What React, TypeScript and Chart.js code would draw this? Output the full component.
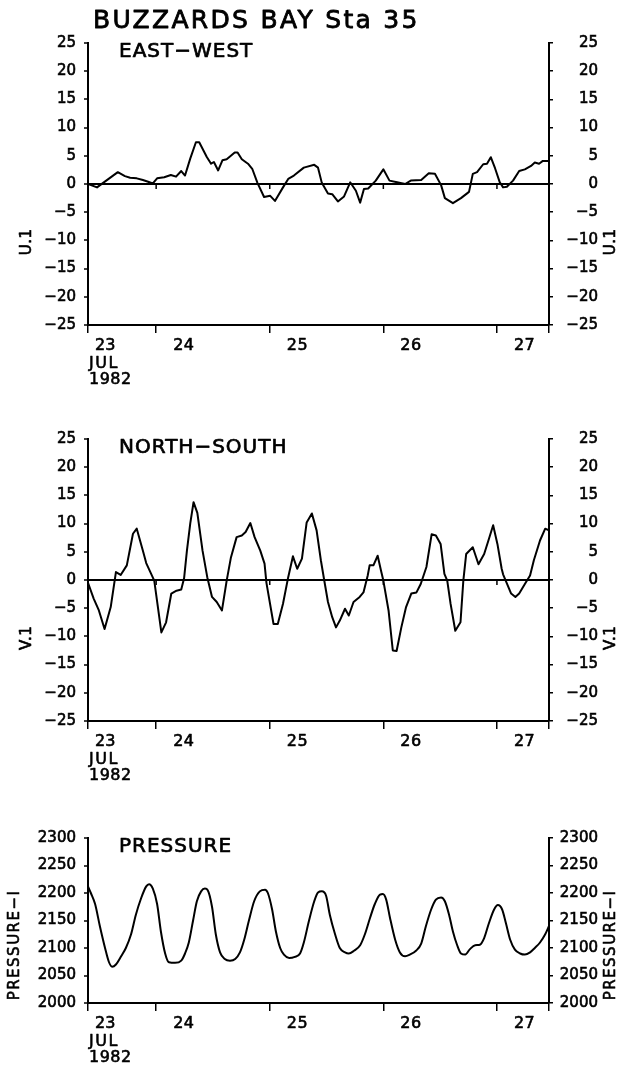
import React, { useEffect, useRef } from "react";
import { Chart, registerables } from "chart.js";

Chart.register(...registerables);

const FONT = "'DejaVu Sans', 'Liberation Sans', sans-serif";
const STROKE = 0.6;

// ---------- text ----------
const mainTitle = "BUZZARDS BAY Sta 35";
const panelTitles = ["EAST\u2212WEST", "NORTH\u2212SOUTH", "PRESSURE"];
const axisTitles = ["U.1", "V.1", "PRESSURE\u2212I"];
const firstDayLabel = ["23", "JUL", "1982"];
const dayLabels = ["24", "25", "26", "27"];

// ---------- x axis (hours after 23 JUL 1982 00:00) ----------
const xMinHour = 9.6;
const xMaxHour = 107;
const dayHours = [24, 48, 72, 96];

// ---------- EAST-WEST (U.1) ----------
const ewHours = [9.6, 11.5, 15.9, 17.4, 18.5, 19.9, 21.2, 22.3, 23.3, 24.2, 25.7, 27.1, 28.2, 29.3, 30.1, 31.2, 32.4, 33.1, 34.7, 35.6, 36.2, 37.1, 38.0, 38.9, 40.6, 41.2, 42.1, 43.4, 44.3, 45.4, 46.8, 48.1, 49.1, 50.8, 51.9, 53.1, 55.2, 57.4, 58.2, 59.0, 60.3, 61.2, 62.4, 63.7, 65.0, 66.2, 67.1, 67.9, 68.8, 70.4, 72.0, 73.3, 74.9, 76.6, 77.8, 80.0, 81.6, 82.9, 84.2, 85.0, 86.7, 88.4, 90.1, 90.9, 91.8, 93.1, 93.9, 94.7, 95.6, 96.6, 97.3, 98.1, 99.4, 100.7, 101.9, 103.2, 104.0, 104.9, 105.7, 106.8];
const ewValues = [0.0, -0.6, 2.1, 1.4, 1.1, 1.0, 0.7, 0.4, 0.1, 1.0, 1.2, 1.6, 1.3, 2.3, 1.5, 4.5, 7.4, 7.4, 4.8, 3.6, 3.9, 2.4, 4.2, 4.4, 5.6, 5.6, 4.4, 3.6, 2.7, 0.2, -2.3, -2.1, -3.0, -0.6, 0.9, 1.5, 2.9, 3.4, 2.9, 0.2, -1.7, -1.8, -3.1, -2.2, 0.3, -1.2, -3.3, -0.9, -0.8, 0.6, 2.6, 0.6, 0.3, 0.0, 0.6, 0.7, 1.9, 1.8, -0.2, -2.5, -3.4, -2.5, -1.4, 1.8, 2.1, 3.5, 3.6, 4.75, 2.8, 0.3, -0.6, -0.5, 0.6, 2.3, 2.6, 3.2, 3.8, 3.6, 4.1, 4.1];

// ---------- NORTH-SOUTH (V.1) ----------
const nsHours = [9.6, 10.8, 11.9, 13.1, 14.4, 15.5, 16.5, 17.8, 19.1, 19.9, 21.2, 21.9, 23.6, 25.1, 26.1, 27.2, 28.3, 29.3, 29.9, 30.5, 31.2, 31.9, 32.7, 33.8, 34.8, 35.8, 36.8, 37.9, 38.9, 39.8, 41.0, 42.1, 42.9, 43.9, 44.8, 46.0, 46.9, 47.3, 48.8, 49.7, 50.8, 51.9, 52.9, 53.8, 54.8, 55.8, 56.9, 57.9, 58.8, 59.5, 60.3, 61.2, 62.0, 62.8, 63.9, 64.7, 65.7, 67.0, 67.8, 68.7, 69.1, 69.9, 70.8, 71.5, 72.0, 73.1, 74.0, 74.8, 75.8, 76.8, 77.9, 79.0, 79.9, 81.1, 82.2, 83.1, 84.1, 84.9, 85.5, 86.2, 87.2, 88.3, 88.9, 89.5, 90.9, 92.1, 93.3, 94.2, 95.2, 96.1, 97.0, 97.3, 99.0, 99.9, 100.7, 101.9, 103.0, 103.8, 105.1, 106.2, 107.0];
const nsValues = [-0.5, -3.3, -5.4, -8.7, -4.8, 1.4, 0.9, 2.6, 8.2, 9.1, 5.2, 3.0, -0.1, -9.3, -7.5, -2.4, -1.9, -1.7, 0.3, 5.2, 10.0, 13.8, 11.9, 5.2, 0.5, -3.0, -3.9, -5.4, -0.1, 4.0, 7.6, 7.9, 8.5, 10.1, 7.6, 5.2, 2.9, -0.5, -7.8, -7.8, -4.2, 0.5, 4.2, 2.0, 3.8, 10.2, 11.8, 8.8, 3.5, 0.0, -3.9, -6.6, -8.4, -7.2, -5.1, -6.3, -3.9, -3.0, -2.2, 0.8, 2.6, 2.6, 4.3, 1.7, -0.1, -5.4, -12.5, -12.6, -8.4, -4.8, -2.4, -2.2, -0.7, 2.3, 8.1, 7.9, 6.4, 1.1, -0.1, -4.2, -9.0, -7.5, -0.1, 4.6, 5.8, 2.8, 4.6, 7.0, 9.7, 6.4, 2.0, 1.0, -2.4, -3.0, -2.4, -0.7, 0.8, 3.5, 7.0, 9.1, 8.8];

// ---------- PRESSURE ----------
const prHours = [9.6, 10.2, 11.1, 12.1, 13.2, 14.0, 14.7, 15.5, 16.6, 17.6, 18.7, 19.7, 20.8, 21.9, 22.5, 23.3, 24.2, 25.0, 25.9, 26.7, 28.0, 29.3, 30.1, 30.9, 31.8, 32.6, 33.5, 34.3, 34.9, 35.8, 36.6, 37.5, 38.5, 39.6, 40.7, 41.7, 42.6, 43.6, 44.7, 45.9, 47.0, 47.6, 48.5, 49.3, 50.2, 51.0, 52.1, 53.3, 54.4, 55.2, 56.3, 57.4, 58.2, 59.0, 59.9, 60.7, 61.8, 62.8, 63.9, 64.7, 65.8, 67.1, 68.1, 69.2, 70.2, 71.3, 71.9, 72.6, 73.4, 74.5, 75.5, 76.6, 77.6, 78.9, 80.0, 81.0, 82.1, 83.1, 84.2, 85.0, 85.9, 86.7, 87.6, 88.4, 89.3, 90.3, 91.4, 92.4, 93.3, 94.3, 95.4, 96.2, 97.1, 97.9, 98.8, 99.8, 100.9, 101.9, 103.0, 104.0, 105.1, 106.2, 107.0];
const prValues = [2212, 2200, 2180, 2140, 2100, 2075, 2066, 2070, 2085, 2100, 2125, 2160, 2190, 2212, 2216, 2208, 2180, 2130, 2090, 2074, 2073, 2077, 2090, 2110, 2150, 2185, 2203, 2208, 2205, 2175, 2125, 2092, 2080, 2077, 2080, 2092, 2115, 2150, 2185, 2203, 2206, 2200, 2170, 2130, 2100, 2088, 2082, 2084, 2090, 2110, 2150, 2185, 2201, 2203, 2195, 2160, 2125, 2100, 2092, 2090, 2095, 2105, 2125, 2155, 2180, 2197, 2198, 2188, 2155, 2115, 2092, 2085, 2088, 2095, 2108, 2140, 2170, 2188, 2192, 2185, 2160, 2130, 2105, 2090, 2088, 2098, 2105, 2106, 2118, 2145, 2170, 2178, 2170, 2145, 2115, 2097, 2090, 2088, 2092, 2100, 2110, 2125, 2140];

// ---------- y ranges ----------
const velocityRange = [-25, 25];
const velocityStep = 5;
const pressureRange = [2000, 2300];
const pressureStep = 50;

type PanelProps = {
  top: number;
  height: number;
  padTop: number;
  xAxisHeight: number;
  title: string;
  axisTitle: string;
  axisTitleFrac: number;
  axisTitleLeftX: number;
  axisTitleRightX: number;
  axisTitleSpacing: number;
  hours: number[];
  values: number[];
  range: number[];
  step: number;
  zeroLine: boolean;
  smooth: boolean;
  showMainTitle?: boolean;
};

const fmt = (v: number) => (v < 0 ? "\u2212" + Math.abs(v) : String(v));

function drawText(ctx: CanvasRenderingContext2D, s: string, x: number, y: number) {
  ctx.fillText(s, x, y);
  ctx.strokeText(s, x, y);
}

function Panel(p: PanelProps) {
  const ref = useRef<HTMLCanvasElement | null>(null);

  useEffect(() => {
    const canvas = ref.current;
    if (!canvas) return;

    const decor = {
      id: "decor",
      afterDraw(chart: any) {
        const ctx = chart.ctx as CanvasRenderingContext2D;
        const area = chart.chartArea;
        const xs = chart.scales.x;
        const ys = chart.scales.y;
        ctx.save();
        ctx.fillStyle = "#000";
        ctx.strokeStyle = "#000";
        ctx.lineWidth = STROKE;
        ctx.lineJoin = "round";
        (ctx as any).letterSpacing = "0px";

        if (p.showMainTitle) {
          ctx.save();
          ctx.font = `25px ${FONT}`;
          ctx.lineWidth = 0.8;
          (ctx as any).letterSpacing = "2.3px";
          ctx.textAlign = "left";
          ctx.textBaseline = "alphabetic";
          drawText(ctx, mainTitle, 93, 28);
          ctx.restore();
        }

        ctx.save();
        ctx.font = `20px ${FONT}`;
        ctx.lineWidth = 0.7;
        (ctx as any).letterSpacing = "1px";
        ctx.textAlign = "left";
        ctx.textBaseline = "alphabetic";
        drawText(ctx, p.title, 119, area.top + 14);
        ctx.restore();

        ctx.save();
        ctx.font = `15px ${FONT}`;
        (ctx as any).letterSpacing = `${p.axisTitleSpacing}px`;
        ctx.textAlign = "center";
        ctx.textBaseline = "middle";
        const cy = area.top + p.axisTitleFrac * (area.bottom - area.top);
        for (const cx of [p.axisTitleLeftX, p.axisTitleRightX]) {
          ctx.save();
          ctx.translate(cx, cy);
          ctx.rotate(-Math.PI / 2);
          drawText(ctx, p.axisTitle, 0, 0);
          ctx.restore();
        }
        ctx.restore();

        ctx.save();
        ctx.font = `16px ${FONT}`;
        ctx.textAlign = "left";
        ctx.textBaseline = "middle";
        const x0 = xs.getPixelForValue(xMinHour);
        drawText(ctx, firstDayLabel[0], x0 + 7, area.bottom + 21);
        (ctx as any).letterSpacing = "1.5px";
        drawText(ctx, firstDayLabel[1], x0 + 1, area.bottom + 39);
        (ctx as any).letterSpacing = "0.5px";
        drawText(ctx, firstDayLabel[2], x0 + 1, area.bottom + 55);
        dayHours.forEach((h, i) => {
          drawText(ctx, dayLabels[i], xs.getPixelForValue(h) + 17, area.bottom + 21);
        });
        ctx.restore();

        if (p.zeroLine) {
          const y0 = ys.getPixelForValue(0);
          ctx.lineWidth = 1.5;
          ctx.beginPath();
          dayHours.forEach((h) => {
            const x = xs.getPixelForValue(h);
            ctx.moveTo(x, y0);
            ctx.lineTo(x, y0 + 5);
          });
          ctx.stroke();
        }
        ctx.restore();
      },
    };

    const tickFont = { family: FONT, size: 15 };

    const chart = new Chart(canvas, {
      type: "line",
      data: {
        datasets: [
          {
            data: p.hours.map((h, i) => ({ x: h, y: p.values[i] })),
            borderColor: "#000",
            borderWidth: 2,
            pointRadius: 0,
            fill: false,
            tension: 0,
            borderJoinStyle: "round",
            cubicInterpolationMode: p.smooth ? "monotone" : "default",
          } as any,
        ],
      },
      options: {
        responsive: false,
        animation: false,
        devicePixelRatio: 1,
        events: [],
        layout: { padding: { top: p.padTop, right: 26, bottom: 0, left: 0 } },
        plugins: {
          legend: { display: false },
          tooltip: { enabled: false },
          title: { display: false },
        },
        scales: {
          x: {
            type: "linear",
            min: xMinHour,
            max: xMaxHour,
            afterBuildTicks: (s: any) => {
              s.ticks = [xMinHour, ...dayHours, xMaxHour].map((v) => ({ value: v }));
            },
            afterFit: (s: any) => {
              s.height = p.xAxisHeight;
            },
            ticks: { display: false },
            grid: {
              drawOnChartArea: false,
              drawTicks: true,
              tickLength: 8,
              color: "#000",
              lineWidth: 1.5,
            },
            border: { display: true, color: "#000", width: 2 },
          },
          y: {
            type: "linear",
            position: "left",
            min: p.range[0],
            max: p.range[1],
            afterFit: (s: any) => {
              s.width = 88;
            },
            ticks: {
              stepSize: p.step,
              autoSkip: false,
              font: tickFont,
              color: "#000",
              textStrokeColor: "#000",
              textStrokeWidth: STROKE,
              padding: 8,
              callback: (v: any) => fmt(Number(v)),
            },
            grid: {
              drawOnChartArea: p.zeroLine,
              color: (c: any) => (c.tick && c.tick.value === 0 ? "#000" : "rgba(0,0,0,0)"),
              lineWidth: 2,
              tickColor: "#000",
              tickWidth: 1.5,
              tickLength: 4,
            },
            border: { display: true, color: "#000", width: 2 },
          },
          y2: {
            type: "linear",
            position: "right",
            min: p.range[0],
            max: p.range[1],
            afterFit: (s: any) => {
              s.width = 49;
            },
            ticks: {
              stepSize: p.step,
              autoSkip: false,
              font: tickFont,
              color: "#000",
              textStrokeColor: "#000",
              textStrokeWidth: STROKE,
              padding: 8,
              crossAlign: "far",
              callback: (v: any) => fmt(Number(v)),
            },
            grid: {
              drawOnChartArea: false,
              color: "#000",
              lineWidth: 1.5,
              tickLength: 4,
            },
            border: { display: true, color: "#000", width: 2 },
          },
        },
      } as any,
      plugins: [decor],
    });

    return () => chart.destroy();
  }, []);

  return (
    <canvas
      ref={ref}
      width={624}
      height={p.height}
      style={{ position: "absolute", left: 0, top: p.top, width: 624, height: p.height, display: "block" }}
    />
  );
}

export default function App() {
  return (
    <div style={{ position: "absolute", left: 0, top: 0, width: 624, height: 1068, background: "#fff", overflow: "hidden" }}>
      <Panel
        top={0}
        height={397}
        padTop={43}
        xAxisHeight={72}
        title={panelTitles[0]}
        axisTitle={axisTitles[0]}
        axisTitleFrac={0.705}
        axisTitleLeftX={27}
        axisTitleRightX={611}
        axisTitleSpacing={0.5}
        hours={ewHours}
        values={ewValues}
        range={velocityRange}
        step={velocityStep}
        zeroLine={true}
        smooth={false}
        showMainTitle={true}
      />
      <Panel
        top={396}
        height={397}
        padTop={43}
        xAxisHeight={72}
        title={panelTitles[1]}
        axisTitle={axisTitles[1]}
        axisTitleFrac={0.705}
        axisTitleLeftX={27}
        axisTitleRightX={611}
        axisTitleSpacing={0.5}
        hours={nsHours}
        values={nsValues}
        range={velocityRange}
        step={velocityStep}
        zeroLine={true}
        smooth={false}
      />
      <Panel
        top={793}
        height={275}
        padTop={45}
        xAxisHeight={65}
        title={panelTitles[2]}
        axisTitle={axisTitles[2]}
        axisTitleFrac={0.648}
        axisTitleLeftX={15}
        axisTitleRightX={611}
        axisTitleSpacing={1.5}
        hours={prHours}
        values={prValues}
        range={pressureRange}
        step={pressureStep}
        zeroLine={false}
        smooth={true}
      />
    </div>
  );
}
